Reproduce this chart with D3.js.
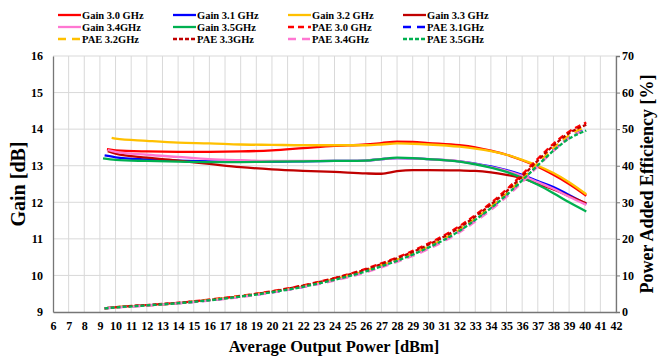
<!DOCTYPE html>
<html>
<head>
<meta charset="utf-8">
<script src="https://cdn.jsdelivr.net/npm/d3@7"></script>
<style>
  body { margin: 0; background: #fff; }
  svg text { font-family: 'Liberation Serif', 'Times New Roman', serif !important; font-weight: bold; fill: #000; }
</style>
</head>
<body>
<svg id="chart" width="659" height="362"></svg>
<script>
// output power grid [dBm]; the first point of each series is replaced by its own start
var power = [9.3, 10, 12, 14, 16, 18, 20, 22, 24, 26, 27, 28, 29, 30, 32, 33, 34, 35, 36, 37, 38, 39, 40.1];

var freqs = ['3.0', '3.1', '3.2', '3.3', '3.4', '3.5'];
var colors = ['#ff0000', '#0000ff', '#ffc000', '#c00000', '#ff77d2', '#00b050'];
var gainStart = [9.45, 9.3, 9.75, 9.5, 9.5, 9.2];

var gain30 = [13.45, 13.42, 13.39, 13.38, 13.38, 13.39, 13.42, 13.48, 13.54, 13.58, 13.62, 13.66, 13.65, 13.62, 13.56, 13.50, 13.41, 13.30, 13.15, 12.97, 12.75, 12.50, 12.18];
var gain31 = [13.28, 13.23, 13.17, 13.14, 13.12, 13.11, 13.11, 13.12, 13.13, 13.14, 13.18, 13.21, 13.20, 13.18, 13.12, 13.06, 12.98, 12.88, 12.75, 12.58, 12.42, 12.20, 11.95];
var gain32 = [13.76, 13.74, 13.68, 13.63, 13.61, 13.58, 13.57, 13.56, 13.56, 13.56, 13.58, 13.61, 13.60, 13.58, 13.52, 13.47, 13.40, 13.30, 13.16, 13.00, 12.80, 12.55, 12.22];
var gain33 = [13.40, 13.33, 13.22, 13.14, 13.05, 12.96, 12.90, 12.86, 12.83, 12.79, 12.78, 12.85, 12.88, 12.88, 12.87, 12.86, 12.82, 12.75, 12.66, 12.50, 12.35, 12.17, 11.97];
var gain34 = [13.43, 13.38, 13.30, 13.24, 13.18, 13.15, 13.13, 13.13, 13.13, 13.14, 13.18, 13.21, 13.20, 13.18, 13.12, 13.05, 12.96, 12.86, 12.72, 12.55, 12.37, 12.15, 11.93];
var gain35 = [13.20, 13.16, 13.13, 13.11, 13.10, 13.10, 13.11, 13.12, 13.13, 13.14, 13.18, 13.22, 13.21, 13.18, 13.11, 13.04, 12.95, 12.83, 12.67, 12.48, 12.25, 12.00, 11.75];

var pae30 = [1.0, 1.3, 1.9, 2.5, 3.4, 4.4, 5.7, 7.3, 9.3, 11.8, 13.3, 14.9, 16.7, 18.7, 23.5, 26.5, 29.8, 33.5, 37.6, 41.9, 46.0, 49.3, 51.8];
var pae31 = [1.0, 1.25, 1.8, 2.4, 3.2, 4.2, 5.4, 6.9, 8.8, 11.1, 12.5, 14.0, 15.7, 17.6, 22.3, 25.2, 28.4, 32.0, 36.0, 40.2, 44.3, 47.8, 50.0];
var pae32 = [1.0, 1.3, 1.8, 2.4, 3.3, 4.3, 5.5, 7.0, 9.0, 11.3, 12.8, 14.3, 16.0, 17.9, 22.6, 25.6, 28.8, 32.4, 36.4, 40.6, 44.8, 48.3, 50.7];
var pae33 = [1.0, 1.3, 1.9, 2.5, 3.3, 4.3, 5.6, 7.2, 9.2, 11.6, 13.1, 14.7, 16.4, 18.4, 23.1, 26.1, 29.4, 33.0, 37.1, 41.4, 45.5, 48.9, 51.2];
var pae34 = [1.0, 1.2, 1.75, 2.35, 3.1, 4.1, 5.3, 6.8, 8.6, 10.8, 12.2, 13.7, 15.3, 17.2, 21.8, 24.7, 27.9, 31.5, 35.5, 39.8, 44.0, 47.6, 49.8];
var pae35 = [1.0, 1.25, 1.8, 2.4, 3.2, 4.2, 5.4, 6.9, 8.8, 11.1, 12.5, 14.0, 15.7, 17.6, 22.2, 25.2, 28.4, 32.0, 36.0, 40.1, 44.1, 47.4, 49.6];

var gainLabels = ['Gain 3.0 GHz', 'Gain 3.1 GHz', 'Gain 3.2 GHz', 'Gain 3.3 GHz', 'Gain 3.4GHz', 'Gain 3.5GHz'];
var paeLabels = ['PAE 3.0 GHz', 'PAE 3.1GHz', 'PAE 3.2GHz', 'PAE 3.3GHz', 'PAE 3.4GHz', 'PAE 3.5GHz'];
var paeDash = ['6,4', '8,6', '8,6', '4,2', '8,6', '4,2'];

var gains = [gain30, gain31, gain32, gain33, gain34, gain35];
var paes = [pae30, pae31, pae32, pae33, pae34, pae35];

var serif = "'Liberation Serif', 'Times New Roman', serif";
var svg = d3.select('#chart');
var plot = { left: 53, right: 616, top: 56, bottom: 312 };

var x = d3.scaleLinear().domain([6, 42]).range([plot.left, plot.right]);
var yGain = d3.scaleLinear().domain([9, 16]).range([plot.bottom, plot.top]);
var yPae = d3.scaleLinear().domain([0, 70]).range([plot.bottom, plot.top]);

// grid
var grid = svg.append('g').attr('class', 'grid');
grid.selectAll('line.v').data(d3.range(7, 43)).enter().append('line')
  .attr('x1', function (d) { return x(d); }).attr('x2', function (d) { return x(d); })
  .attr('y1', plot.top).attr('y2', plot.bottom)
  .attr('stroke', '#d9d9d9').attr('stroke-width', 1);
grid.selectAll('line.h').data(d3.range(10, 17)).enter().append('line')
  .attr('x1', plot.left).attr('x2', plot.right)
  .attr('y1', function (d) { return yGain(d); }).attr('y2', function (d) { return yGain(d); })
  .attr('stroke', '#d9d9d9').attr('stroke-width', 1);

// axes
var fmt = d3.format('d');
var xAxis = svg.append('g').attr('transform', 'translate(0,' + plot.bottom + ')')
  .call(d3.axisBottom(x).tickValues(d3.range(6, 43)).tickFormat(fmt).tickSize(0).tickPadding(9));
var yAxisL = svg.append('g').attr('transform', 'translate(' + plot.left + ',0)')
  .call(d3.axisLeft(yGain).tickValues(d3.range(9, 17)).tickFormat(fmt).tickSize(0).tickPadding(10));
var yAxisR = svg.append('g').attr('transform', 'translate(' + plot.right + ',0)')
  .call(d3.axisRight(yPae).tickValues(d3.range(0, 71, 10)).tickFormat(fmt).tickSize(4).tickPadding(2));

[xAxis, yAxisL, yAxisR].forEach(function (a) {
  a.attr('font-family', serif).attr('font-size', 12);
  a.selectAll('.domain').attr('stroke', '#767676').attr('stroke-width', 1.3);
  a.selectAll('.tick line').attr('stroke', '#767676');
  a.selectAll('text').attr('fill', '#000');
});

// lines
function seriesPoints(vals, start) {
  return vals.map(function (v, i) { return [i === 0 ? start : power[i], v]; });
}
var gainLine = d3.line().x(function (d) { return x(d[0]); }).y(function (d) { return yGain(d[1]); }).curve(d3.curveMonotoneX);
var paeLine = d3.line().x(function (d) { return x(d[0]); }).y(function (d) { return yPae(d[1]); }).curve(d3.curveMonotoneX);

var lines = svg.append('g').attr('class', 'lines');
gains.forEach(function (g, i) {
  lines.append('path').datum(seriesPoints(g, gainStart[i]))
    .attr('d', gainLine).attr('fill', 'none')
    .attr('stroke', colors[i]).attr('stroke-width', 2.3);
});
paes.forEach(function (p, i) {
  lines.append('path').datum(seriesPoints(p, power[0]))
    .attr('d', paeLine).attr('fill', 'none')
    .attr('stroke', colors[i]).attr('stroke-width', 2.3)
    .attr('stroke-dasharray', paeDash[i]);
});

// axis titles
svg.append('text').attr('transform', 'translate(25,184) rotate(-90)')
  .attr('text-anchor', 'middle').attr('font-family', serif).attr('font-size', 20).text('Gain [dB]');
svg.append('text').attr('transform', 'translate(653,184) rotate(-90)')
  .attr('text-anchor', 'middle').attr('font-family', serif).attr('font-size', 18).text('Power Added Efficiency [%]');
svg.append('text').attr('x', 334).attr('y', 352)
  .attr('text-anchor', 'middle').attr('font-family', serif).attr('font-size', 16.5).text('Average Output Power [dBm]');

// legend: 3 rows x 4 columns, filled row by row
var legendItems = [];
gainLabels.forEach(function (l, i) { legendItems.push({ label: l, color: colors[i], dash: null }); });
paeLabels.forEach(function (l, i) { legendItems.push({ label: l, color: colors[i], dash: paeDash[i] }); });
var colX = [58, 173, 288, 403];
var rowY = [15, 27, 39];
var legend = svg.append('g').attr('class', 'legend');
legendItems.forEach(function (d, i) {
  var lx = colX[i % 4], ly = rowY[Math.floor(i / 4)];
  legend.append('line').attr('x1', lx).attr('x2', lx + 23).attr('y1', ly).attr('y2', ly)
    .attr('stroke', d.color).attr('stroke-width', 2.3)
    .attr('stroke-dasharray', d.dash);
  legend.append('text').attr('x', lx + 24).attr('y', ly + 4)
    .attr('font-family', serif).attr('font-size', 10.5).text(d.label);
});
</script>
</body>
</html>
